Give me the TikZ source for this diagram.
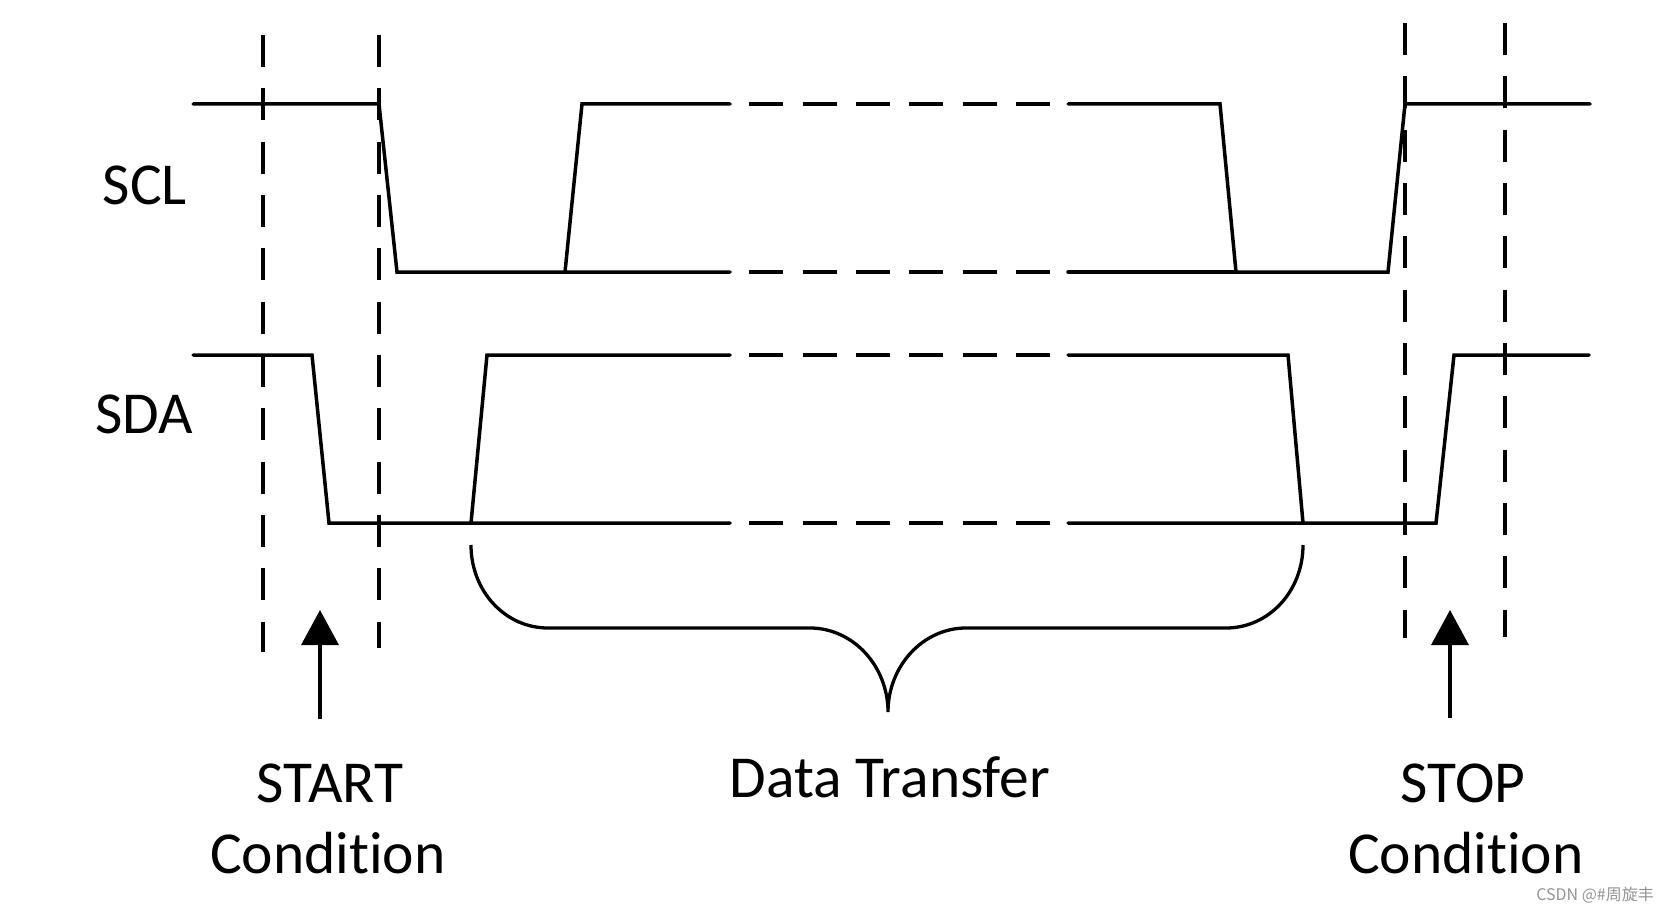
\documentclass[tikz,border=0pt]{standalone}
\usepackage{fontspec}
\setmainfont{Carlito}[Ligatures={NoCommon}]
\newfontfamily\cjkfont{Noto Sans CJK SC}
\usetikzlibrary{arrows.meta}
\begin{document}
\begin{tikzpicture}[x=1pt,y=-1pt,
  sig/.style={line width=3.5pt,line cap=round,line join=miter},
  sigdash/.style={line width=3.5pt,dash pattern=on 34pt off 19.33pt},
  guide/.style={line width=3.5pt,dash pattern=on 32pt off 21.33pt},
  brace/.style={line width=3.3pt},
  lbl/.style={font=\fontsize{59.5}{71}\selectfont,inner sep=0pt,anchor=base},
  uparrow/.style={line width=3.5pt,-{Triangle[width=37pt,length=35pt]}}]
\useasboundingbox (0,0) rectangle (1670,912);
% guide lines
\draw[guide] (263,35) -- (263,652);
\draw[guide] (379,35) -- (379,648);
\draw[guide] (1405,23) -- (1405,638);
\draw[guide] (1505,23) -- (1505,637);
% SCL
\draw[sig] (193,104) -- (379,104) -- (397,272) -- (730,272);
\draw[sig] (565,272) -- (582,104) -- (730,104);
\draw[sig] (1068,104) -- (1220,104) -- (1236,272) -- (1388,272) -- (1405,104) -- (1590,104);
\draw[sig] (1068,272) -- (1236,272);
\draw[sigdash] (749.3,104) -- (1050,104);
\draw[sigdash] (749.3,272) -- (1050,272);
% SDA
\draw[sig] (193,355) -- (312,355) -- (329,523) -- (730,523);
\draw[sig] (471,523) -- (487,355) -- (730,355);
\draw[sig] (1068,355) -- (1288,355) -- (1303,523);
\draw[sig] (1068,523) -- (1436,523) -- (1454,355) -- (1589,355);
\draw[sigdash] (749.3,355) -- (1050,355);
\draw[sigdash] (749.3,523) -- (1050,523);
% brace
\draw[brace] (471,545) .. controls (471,591) and (505,628) .. (548,628)
  -- (810,628) .. controls (853,628) and (888,666) .. (888,712)
  .. controls (888,666) and (923,628) .. (966,628)
  -- (1226,628) .. controls (1269,628) and (1303,591) .. (1303,545);
% labels
\node[lbl] (scl) at (145,205) {SCL};
\node[lbl] (sda) at (144,433) {SDA};
\node[lbl] (start) at (330,802) {START};
\node[lbl] (startc) at (328,873) {Condition};
\node[lbl] (data) at (890,797) {Data Transfer};
\node[lbl] (stop) at (1463,802) {STOP};
\node[lbl] (stopc) at (1466,873) {Condition};
\node[inner sep=0pt,anchor=base east,text=black!42,font=\cjkfont\fontsize{16}{18}\selectfont] (wm) at (1654,900) {CSDN @\#周旋丰};
% arrows
\coordinate (startFoot) at (320,719);
\coordinate (startTip) at (320,610);
\coordinate (stopFoot) at (1450,718);
\coordinate (stopTip) at (1450,610);
\draw[uparrow] (startFoot) -- (startTip);
\draw[uparrow] (stopFoot) -- (stopTip);
\end{tikzpicture}
\end{document}
